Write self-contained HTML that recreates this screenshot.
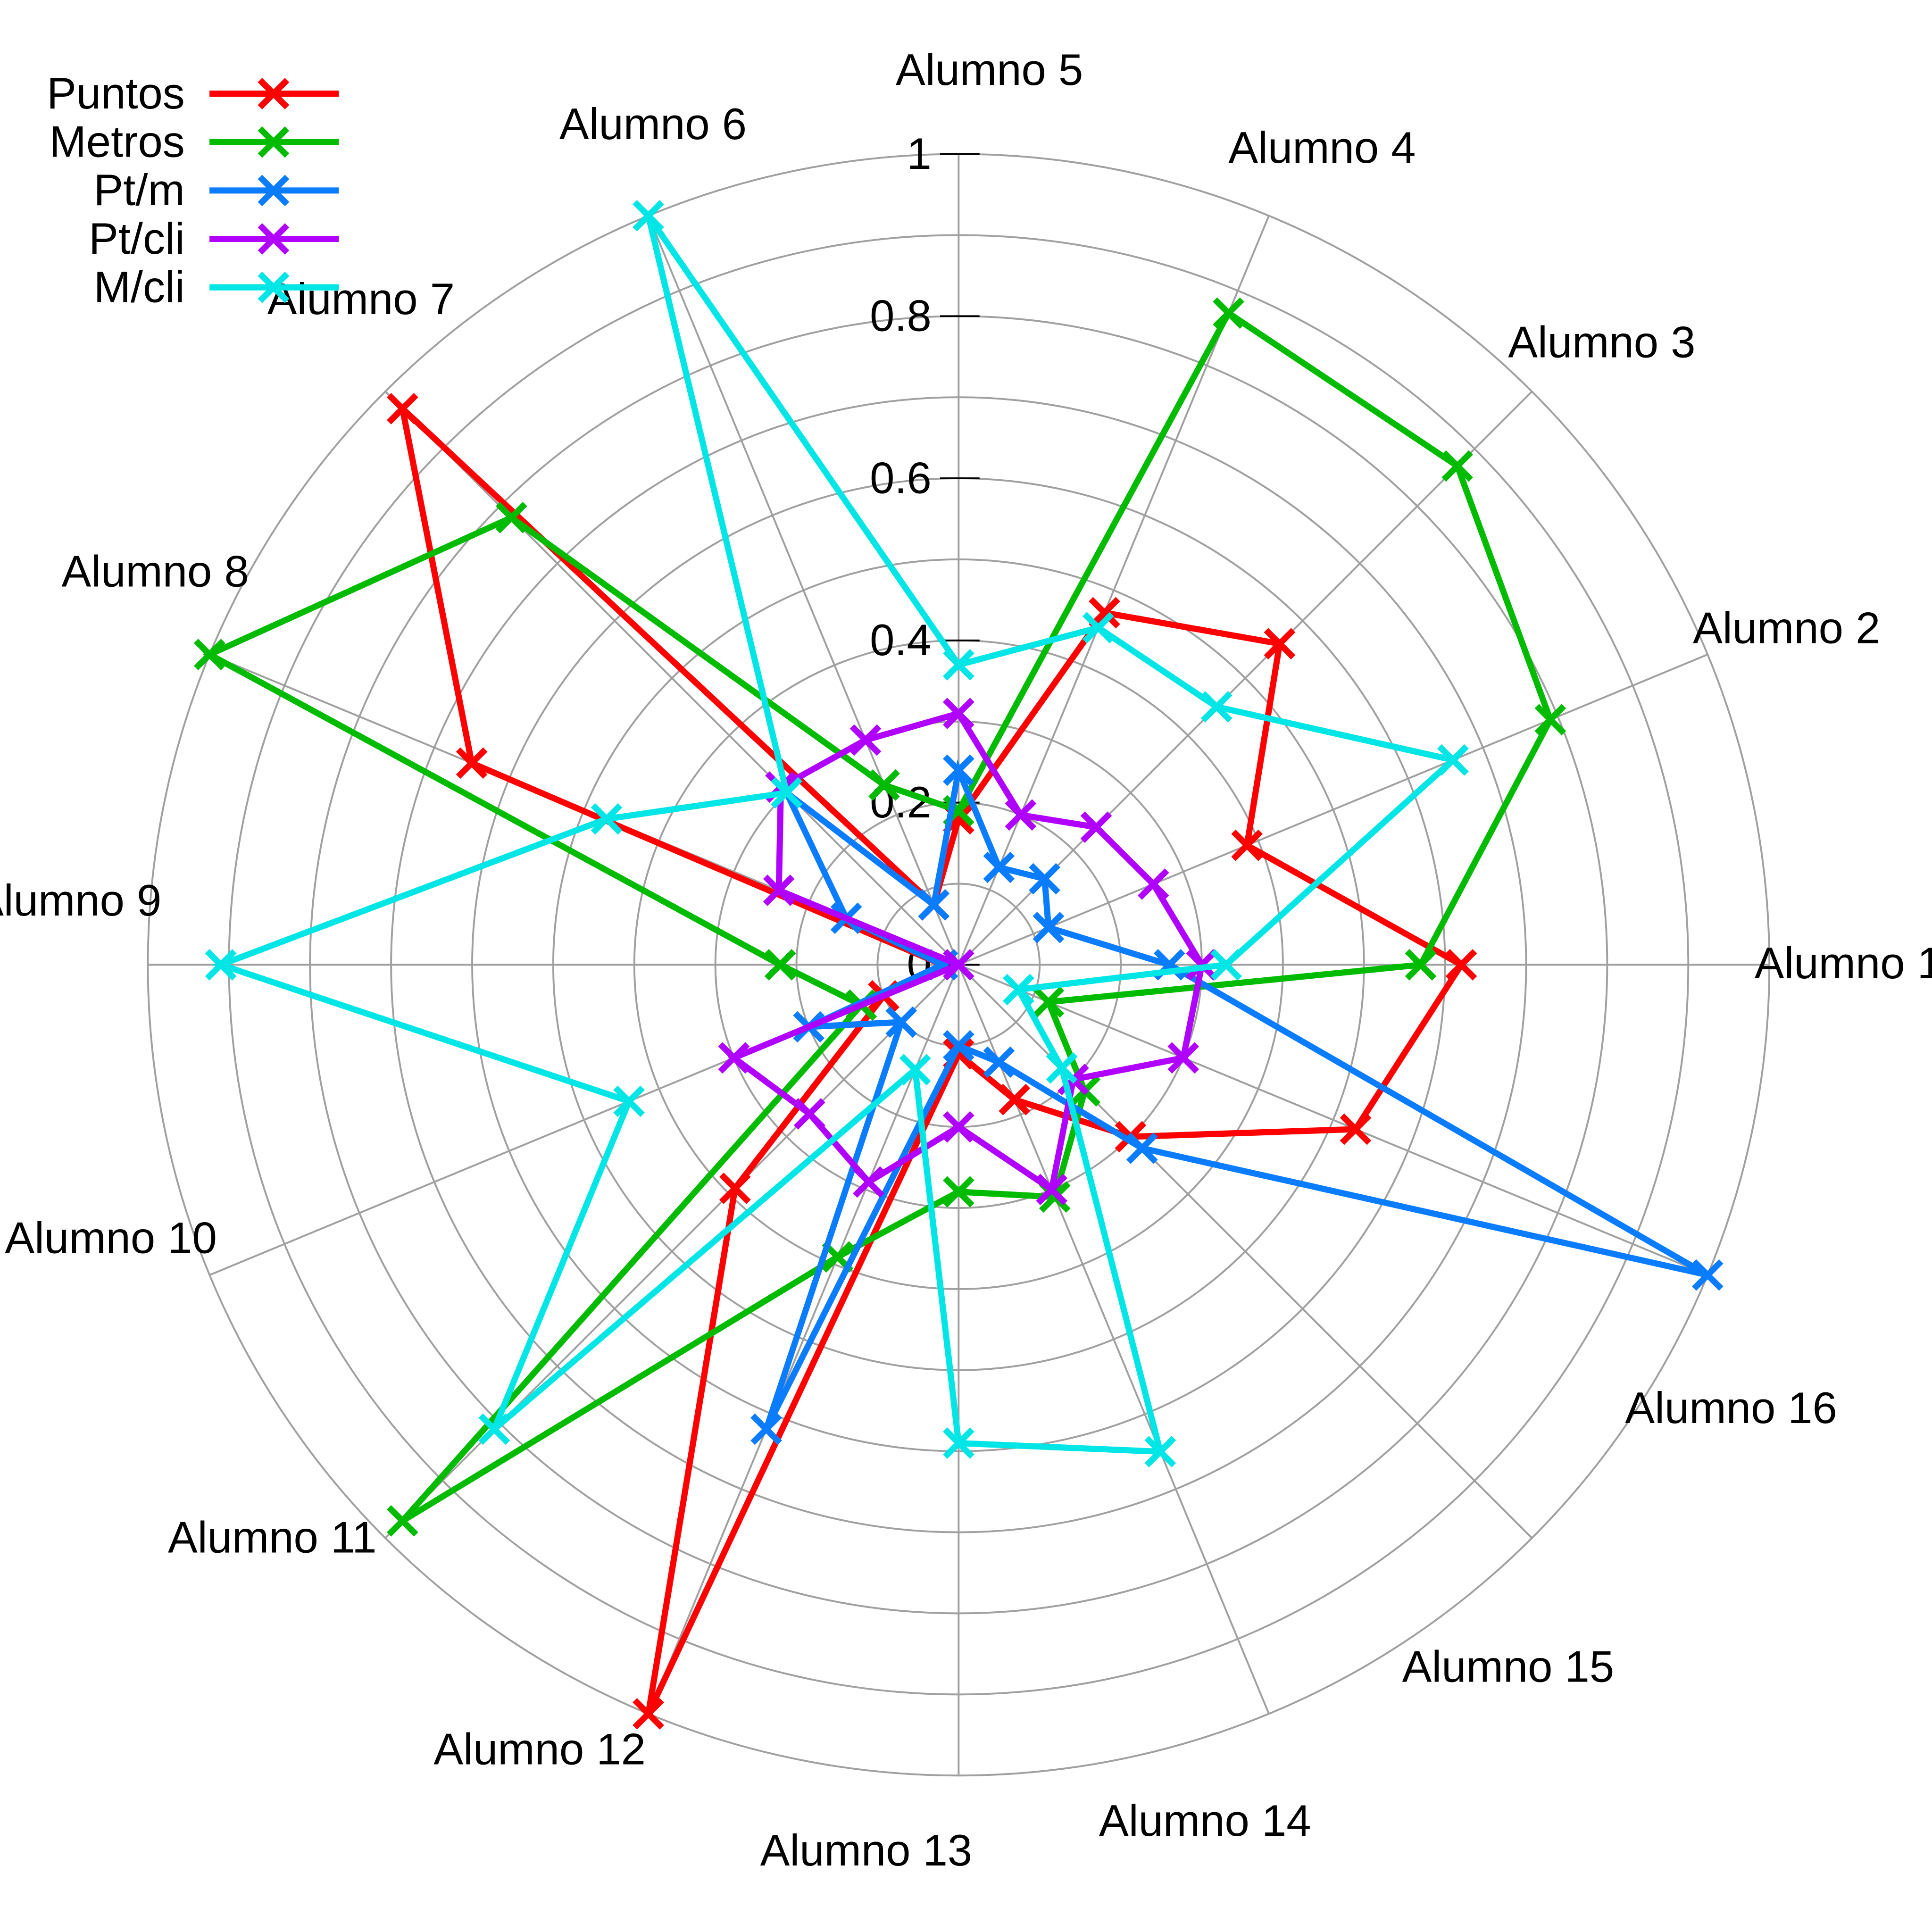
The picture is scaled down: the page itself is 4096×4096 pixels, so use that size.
<!DOCTYPE html>
<html><head><meta charset="utf-8"><style>
html,body{margin:0;padding:0;background:#fff;}
svg{display:block;font-family:"Liberation Sans",sans-serif;}
</style></head><body>
<svg id="chart" width="4096" height="4096" viewBox="0 0 1568 1568" xmlns="http://www.w3.org/2000/svg">
<g id="grid"></g>
<g id="ticks"></g>
<g id="labels"></g>
<g id="series"></g>
<g id="legend"></g>
</svg>
<script>
const categories = ["Alumno 1","Alumno 2","Alumno 3","Alumno 4","Alumno 5","Alumno 6","Alumno 7","Alumno 8","Alumno 9","Alumno 10","Alumno 11","Alumno 12","Alumno 13","Alumno 14","Alumno 15","Alumno 16"];
const seriesNames = ["Puntos","Metros","Pt/m","Pt/cli","M/cli"];
const puntos = [0.62,0.385,0.56,0.47,0.18,0.08,0.97,0.65,0.02,0.1,0.39,1.0,0.11,0.18,0.30,0.53];
const metros = [0.57,0.79,0.87,0.87,0.19,0.24,0.78,1.0,0.22,0.13,0.97,0.39,0.28,0.31,0.22,0.12];
const ptm = [0.26,0.12,0.15,0.13,0.24,0.08,0.30,0.15,0.02,0.2,0.1,0.62,0.1,0.13,0.32,1.0];
const ptcli = [0.30,0.26,0.24,0.2,0.31,0.30,0.31,0.24,0.0,0.30,0.26,0.29,0.2,0.3,0.2,0.3];
const mcli = [0.33,0.66,0.45,0.45,0.37,1.0,0.30,0.47,0.91,0.44,0.81,0.14,0.59,0.65,0.18,0.08];
const tickLabels = ["0","0.2","0.4","0.6","0.8","1"];
const tickValues = [0,0.2,0.4,0.6,0.8,1];

const NS="http://www.w3.org/2000/svg";
const CX=778, CY=783, R=658;
const FS=36;
const colors=["#ff0000","#00bb00","#0a7cff","#b000ff","#00e5e5"];
const allSeries=[puntos,metros,ptm,ptcli,mcli];
const labelPos=[[1500,782],[1450,510],[1300,278],[1073,120],[803,57],[530,101],[293,243],[126,464],[55,731],[90,1005],[221,1248],[438,1420],[703,1502],[978,1478],[1224,1353],[1405,1143]];
function ang(i){return i*2*Math.PI/categories.length;}
function px(i,v){return CX+R*v*Math.cos(ang(i));}
function py(i,v){return CY-R*v*Math.sin(ang(i));}
function mk(tag,attrs,parent){const e=document.createElementNS(NS,tag);for(const k in attrs)e.setAttribute(k,attrs[k]);parent.appendChild(e);return e;}

const grid=document.getElementById('grid');
for(let k=1;k<=10;k++){
  const c=mk('circle',{cx:CX,cy:CY,r:R*k/10,fill:'none',stroke:'#a0a0a0','stroke-width':1.5},grid);
  
  
}
for(let i=0;i<categories.length;i++){
  const l=mk('line',{x1:CX,y1:CY,x2:px(i,1),y2:py(i,1),stroke:'#a0a0a0','stroke-width':1.5},grid);
  
  
}
const ticks=document.getElementById('ticks');
tickValues.forEach((v,j)=>{
  const y=CY-R*v;
  const l=mk('line',{x1:763,y1:y,x2:795,y2:y,stroke:'#000','stroke-width':1.5},ticks);
  
  
  const t=mk('text',{x:756,y:y+12,'font-size':FS,'text-anchor':'end'},ticks);
  t.textContent=tickLabels[j];
  
  
});
const labels=document.getElementById('labels');
categories.forEach((c,i)=>{
  const t=mk('text',{x:labelPos[i][0],y:labelPos[i][1]+12,'font-size':FS,'text-anchor':'middle'},labels);
  t.textContent=c;
  
  
});
function cross(g,x,y,col){
  const s=11;
  mk('path',{d:`M${x-s},${y-s}L${x+s},${y+s}M${x-s},${y+s}L${x+s},${y-s}`,stroke:col,'stroke-width':5,fill:'none'},g);
}
const sg=document.getElementById('series');
allSeries.forEach((vals,si)=>{
  const g=mk('g',{},sg);
  
  
  const pts=vals.map((v,i)=>px(i,v)+','+py(i,v));
  const p=mk('polygon',{points:pts.join(' '),fill:'none',stroke:colors[si],'stroke-width':5,'stroke-linejoin':'miter'},g);
  
  
  vals.forEach((v,i)=>cross(g,px(i,v),py(i,v),colors[si]));
});
const lg=document.getElementById('legend');
seriesNames.forEach((n,si)=>{
  const y=76+si*39.3;
  const e=mk('g',{},lg);
  
  
  const t=mk('text',{x:150,y:y+12,'font-size':FS,'text-anchor':'end'},e);
  t.textContent=n;
  mk('line',{x1:170,y1:y,x2:275,y2:y,stroke:colors[si],'stroke-width':5},e);
  cross(e,222,y,colors[si]);
});
</script>
</body></html>
